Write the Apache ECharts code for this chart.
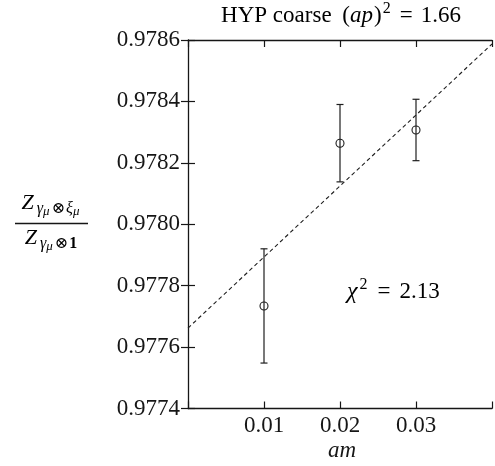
<!DOCTYPE html>
<html>
<head>
<meta charset="utf-8">
<script src="https://cdn.jsdelivr.net/npm/echarts@6/dist/echarts.min.js"></script>
<style>
  html, body { margin: 0; padding: 0; background: #ffffff; }
  #chart { width: 495px; height: 466px; }
</style>
</head>
<body>
<div id="chart"></div>
<script>
// Renormalisation ratio versus quark mass, HYP coarse ensemble
const amValues = [0.01, 0.02, 0.03];
const ratioValues = [0.977734, 0.978264, 0.978307];
const ratioErrors = [0.000186, 0.000126, 0.000100];

// Straight-line fit, endpoints across the am range
const fitAm = [0, 0.04];
const fitRatio = [0.977662, 0.978587];

const xTickLabels = ['0.01', '0.02', '0.03'];
const yTickLabels = ['0.9774', '0.9776', '0.9778', '0.9780', '0.9782', '0.9784', '0.9786'];

const apSquared = '1.66';
const chiSquared = '2.13';

const SERIF = '"Liberation Serif", "DejaVu Serif", serif';
const INK = '#161616';

const chart = echarts.init(document.getElementById('chart'), null, { renderer: 'canvas' });

const tickStyle = { show: true, inside: true, length: 7, lineStyle: { color: INK, width: 1.2 } };
const lineStyleAxis = { show: true, onZero: false, lineStyle: { color: INK, width: 1.3 } };

function xLabel(v) {
  const s = v.toFixed(2);
  return xTickLabels.indexOf(s) >= 0 ? s : '';
}
function yLabel(v) {
  const s = v.toFixed(4);
  return yTickLabels.indexOf(s) >= 0 ? s : '';
}

// rich-text token: top-aligned, vertical offset, optional side spacing
const tok = (top, size, italic, left, right) => ({
  fontFamily: SERIF, fontSize: size, fontStyle: italic ? 'italic' : 'normal',
  color: INK, verticalAlign: 'top', padding: [top, right || 0, 0, left || 0]
});

chart.setOption({
  animation: false,
  backgroundColor: '#ffffff',
  grid: { left: 188, top: 40, width: 307.2, height: 368.5, containLabel: false },
  xAxis: [
    {
      type: 'value', position: 'bottom', min: 0, max: 0.04, interval: 0.01,
      axisLine: lineStyleAxis, axisTick: tickStyle, splitLine: { show: false },
      axisLabel: { formatter: xLabel, fontFamily: SERIF, fontSize: 23, color: INK, margin: 6 }
    },
    {
      type: 'value', position: 'top', min: 0, max: 0.04, interval: 0.01,
      axisLine: lineStyleAxis, axisTick: tickStyle, splitLine: { show: false },
      axisLabel: { show: false }
    }
  ],
  yAxis: [
    {
      type: 'value', position: 'left', min: 0.9774, max: 0.9786, interval: 0.0002,
      axisLine: lineStyleAxis, axisTick: tickStyle, splitLine: { show: false },
      axisLabel: { formatter: yLabel, fontFamily: SERIF, fontSize: 23, color: INK, margin: 8 }
    },
    {
      type: 'value', position: 'right', min: 0.9774, max: 0.9786, interval: 0.0002,
      axisLine: { show: false }, axisTick: tickStyle, splitLine: { show: false },
      axisLabel: { show: false }
    }
  ],
  series: [
    {
      name: 'fit',
      type: 'line',
      xAxisIndex: 0, yAxisIndex: 0,
      data: fitAm.map((x, i) => [x, fitRatio[i]]),
      showSymbol: false,
      clip: true,
      silent: true,
      lineStyle: { color: '#1e1e1e', width: 1.1, type: [4, 3] }
    },
    {
      name: 'ratio',
      type: 'custom',
      xAxisIndex: 0, yAxisIndex: 0,
      data: amValues.map((x, i) => [x, ratioValues[i], ratioErrors[i]]),
      renderItem: function (params, api) {
        const x = api.value(0), y = api.value(1), e = api.value(2);
        const c = api.coord([x, y]);
        const hi = api.coord([x, y + e]);
        const lo = api.coord([x, y - e]);
        const cap = 3.5;
        const st = { stroke: '#1e1e1e', lineWidth: 1.2, fill: null };
        return {
          type: 'group',
          children: [
            { type: 'line', shape: { x1: c[0], y1: hi[1], x2: c[0], y2: lo[1] }, style: st },
            { type: 'line', shape: { x1: c[0] - cap, y1: hi[1], x2: c[0] + cap, y2: hi[1] }, style: st },
            { type: 'line', shape: { x1: c[0] - cap, y1: lo[1], x2: c[0] + cap, y2: lo[1] }, style: st },
            { type: 'circle', shape: { cx: c[0], cy: c[1], r: 4 }, style: { stroke: '#1e1e1e', lineWidth: 1.1, fill: 'none' } }
          ]
        };
      }
    }
  ],
  graphic: [
    {
      type: 'text', x: 341, y: 0,
      style: {
        text: '{n|HYP coarse }{p|(}{i|ap}{n|)}{s|2}{e|=}{n|' + apSquared + '}',
        align: 'center', verticalAlign: 'top',
        rich: {
          n: tok(4, 23, false),
          p: tok(4, 23, false, 5),
          i: tok(4, 23, true, 0, 1),
          s: tok(1, 16, false, 1),
          e: tok(4, 23, false, 9, 8)
        }
      }
    },
    {
      type: 'text', x: 51, y: 192,
      style: {
        text: '{z|Z}{g|γ}{m|μ}{o|⊗}{g|ξ}{m|μ}',
        align: 'center', verticalAlign: 'top',
        rich: {
          z: tok(0, 22, true, 0, 3),
          g: tok(9, 16, true),
          m: tok(13, 13, true, 0, 1),
          o: tok(9, 16, false, 1, 1)
        }
      }
    },
    {
      type: 'line',
      shape: { x1: 15, y1: 223.5, x2: 88, y2: 223.5 },
      style: { stroke: INK, lineWidth: 1.3 }
    },
    {
      type: 'text', x: 51, y: 227,
      style: {
        text: '{z|Z}{g|γ}{m|μ}{o|⊗}{b|1}',
        align: 'center', verticalAlign: 'top',
        rich: {
          z: tok(0, 22, true, 0, 3),
          g: tok(9, 16, true),
          m: tok(13, 13, true, 0, 1),
          o: tok(9, 16, false, 1, 1),
          b: Object.assign(tok(9, 16, false), { fontWeight: 'bold' })
        }
      }
    },
    {
      type: 'text', x: 347, y: 276,
      style: {
        text: '{i|χ}{s|2}{e|=}{n|' + chiSquared + '}',
        align: 'left', verticalAlign: 'top',
        rich: {
          i: tok(4, 24, true, 0, 1),
          s: tok(1, 16, false, 1),
          e: tok(4, 23, false, 10, 9),
          n: tok(4, 23, false)
        }
      }
    },
    {
      type: 'text', x: 342, y: 439,
      style: {
        text: 'am',
        align: 'center', verticalAlign: 'top',
        fontFamily: SERIF, fontSize: 23, fontStyle: 'italic', fill: INK
      }
    }
  ]
});
</script>
</body>
</html>
